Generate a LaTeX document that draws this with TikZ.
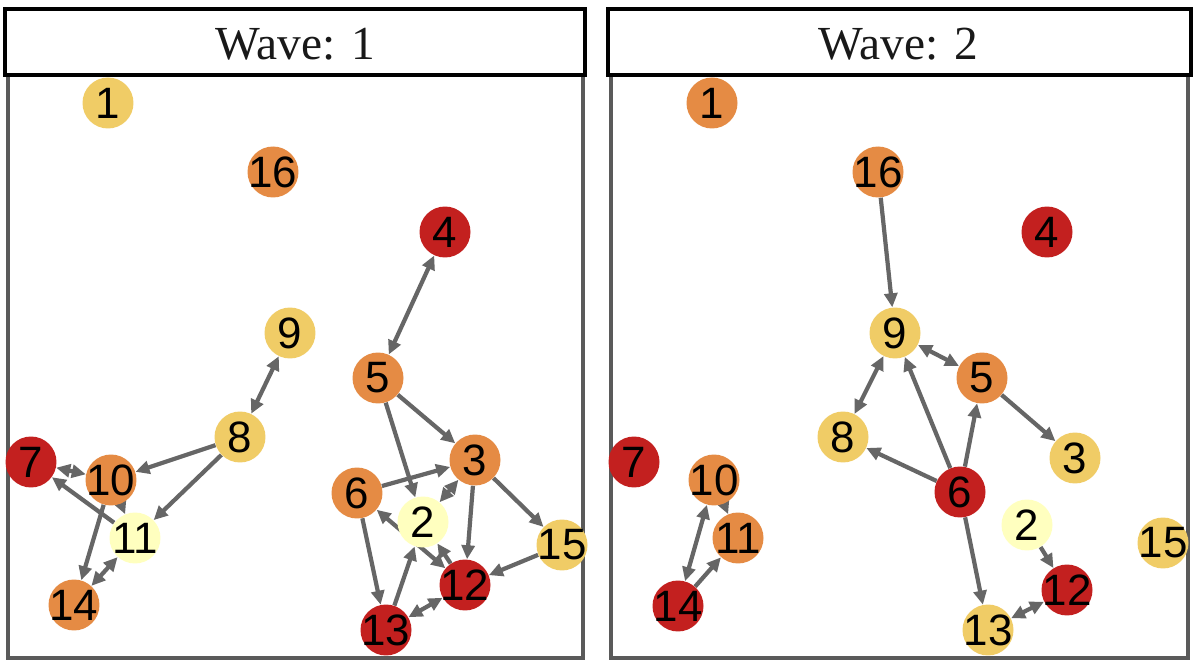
\documentclass[tikz,border=0pt]{standalone}
\usepackage{fontspec}
\newfontfamily\plotsans{Liberation Sans}
\newfontfamily\plotserif{Liberation Serif}
\usetikzlibrary{arrows.meta,backgrounds}
\definecolor{netred}{HTML}{C3201F}
\definecolor{netorange}{HTML}{E58B44}
\definecolor{netyellow}{HTML}{F0CC66}
\definecolor{netpale}{HTML}{FFFFBF}
\definecolor{edgegray}{HTML}{666666}
\definecolor{framegray}{HTML}{5A5A5A}
\newcommand{\vlab}[1]{\makebox[0pt]{#1}}

\begin{document}
\begin{tikzpicture}[
    x=0.02cm,
    y=-0.02cm,
    >={Triangle[length=0.28cm,width=0.26cm]},
    vertex/.style={
		circle,
		inner sep=0pt,
		minimum size=1.02cm,
		text=black,
		font=\plotsans\fontsize{25}{25}\selectfont
	},
	vred/.style={vertex, fill=netred},
	vorange/.style={vertex, fill=netorange},
	vyellow/.style={vertex, fill=netyellow},
	vpale/.style={vertex, fill=netpale},
	link/.style={
		draw=edgegray,
		line width=2.4pt
	},
	strip/.style={
		draw=black,
		line width=1.8pt,
		fill=white
	},
	panel/.style={
		draw=framegray,
		line width=1.8pt
	}
  ]

\useasboundingbox (0,0) rectangle (1200,668);

% // panel frames
\draw [panel] (8,75) rectangle (583,658);
\draw [panel] (611,75) rectangle (1188,658);
\draw [strip] (5,9) rectangle (585,75);
\draw [strip] (608,9) rectangle (1191,75);
\node [font=\plotserif\fontsize{27}{27}\selectfont, text=black!90] (title1) at (295,44) {Wave: 1};
\node [font=\plotserif\fontsize{27}{27}\selectfont, text=black!90] (title2) at (898,44) {Wave: 2};

% // wave 1
\node [vyellow] (a1) at (108,103) {\vlab{1}};
\node [vorange] (a16) at (273,172) {\vlab{16}};
\node [vred] (a4) at (445,232) {\vlab{4}};
\node [vyellow] (a9) at (290,333) {\vlab{9}};
\node [vorange] (a5) at (378,378) {\vlab{5}};
\node [vyellow] (a8) at (240,437) {\vlab{8}};
\node [vred] (a7) at (31,462) {\vlab{7}};
\node [vorange] (a10) at (111,480) {\vlab{10}};
\node [vorange] (a3) at (475,460) {\vlab{3}};
\node [vorange] (a6) at (357,493) {\vlab{6}};
\node [vpale] (a2) at (423,522) {\vlab{2}};
\node [vpale] (a11) at (135,538) {\vlab{11}};
\node [vyellow] (a15) at (562,545) {\vlab{15}};
\node [vred] (a12) at (465,585) {\vlab{12}};
\node [vorange] (a14) at (74,605) {\vlab{14}};
\node [vred] (a13) at (386,630) {\vlab{13}};

% // wave 2
\node [vorange] (b1) at (712,103) {\vlab{1}};
\node [vorange] (b16) at (878,172) {\vlab{16}};
\node [vred] (b4) at (1047,232) {\vlab{4}};
\node [vyellow] (b9) at (895,333) {\vlab{9}};
\node [vorange] (b5) at (982,378) {\vlab{5}};
\node [vyellow] (b8) at (843,437) {\vlab{8}};
\node [vred] (b7) at (634,462) {\vlab{7}};
\node [vyellow] (b3) at (1075,458) {\vlab{3}};
\node [vorange] (b10) at (714,480) {\vlab{10}};
\node [vred] (b6) at (960,492) {\vlab{6}};
\node [vpale] (b2) at (1027,525) {\vlab{2}};
\node [vorange] (b11) at (738,538) {\vlab{11}};
\node [vyellow] (b15) at (1163,543) {\vlab{15}};
\node [vred] (b12) at (1067,590) {\vlab{12}};
\node [vred] (b14) at (678,606) {\vlab{14}};
\node [vyellow] (b13) at (988,630) {\vlab{13}};

\begin{pgfonlayer}{background}
 \fill [white] (0,0) rectangle (1200,668);
% wave 1 ties
 \draw [link, <->] (a4) -- (a5);
 \draw [link, <->] (a9) -- (a8);
 \draw [link, ->] (a8) -- (a10);
 \draw [link, ->] (a8) -- (a11);
 \draw [link, <->] (a7) -- (a10);
 \draw [link, ->] (a11) -- (a7);
 \draw [link, <->] (a10) -- (a11);
 \draw [link, ->] (a10) -- (a14);
 \draw [link, <->] (a14) -- (a11);
 \draw [link, ->] (a5) -- (a3);
 \draw [link, ->] (a5) -- (a2);
 \draw [link, ->] (a6) -- (a3);
 \draw [link, <->] (a3) -- (a2);
 \draw [link, ->] (a3) -- (a12);
 \draw [link, ->] (a3) -- (a15);
 \draw [link, <->] (a6) -- (a12);
 \draw [link, ->] (a12) -- (a2);
 \draw [link, ->] (a6) -- (a13);
 \draw [link, ->] (a13) -- (a2);
 \draw [link, <->] (a13) -- (a12);
 \draw [link, ->] (a15) -- (a12);
% wave 2 ties
 \draw [link, ->] (b16) -- (b9);
 \draw [link, <->] (b9) -- (b5);
 \draw [link, <->] (b9) -- (b8);
 \draw [link, ->] (b6) -- (b8);
 \draw [link, ->] (b6) -- (b9);
 \draw [link, ->] (b6) -- (b5);
 \draw [link, ->] (b5) -- (b3);
 \draw [link, ->] (b6) -- (b13);
 \draw [link, ->] (b2) -- (b12);
 \draw [link, <->] (b13) -- (b12);
 \draw [link, <->] (b14) -- (b10);
 \draw [link, ->] (b14) -- (b11);
 \draw [link, <->] (b10) -- (b11);
\end{pgfonlayer}

\end{tikzpicture}
\end{document}
